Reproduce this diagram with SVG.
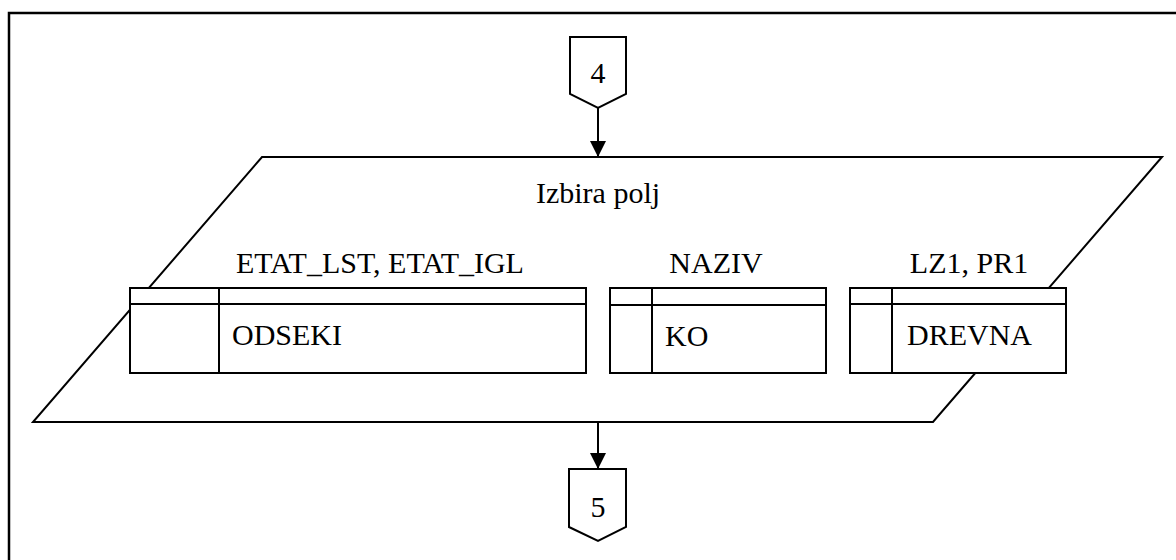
<svg xmlns="http://www.w3.org/2000/svg" width="1176" height="560" viewBox="0 0 1176 560" font-family="Liberation Serif" font-size="30">
  <style>
    .ln { fill: none; stroke: #000; stroke-width: 2; }
    .box { fill: #fff; stroke: #000; stroke-width: 2; }
    .mid { text-anchor: middle; }
  </style>
  <defs>
    <marker id="arrow" markerUnits="userSpaceOnUse" markerWidth="16" markerHeight="16" refX="16" refY="8" orient="auto">
      <path d="M0,0 L16,8 L0,16 Z" fill="#000"/>
    </marker>
  </defs>

  <rect x="0" y="0" width="1176" height="560" fill="#fff"/>
  <!-- page frame -->
  <path d="M9,570 V13 H1190" fill="none" stroke="#000" stroke-width="2.5"/>

  <!-- off-page connector 4 -->
  <g id="conn4">
    <path class="box" d="M570,37 H626 V94 L598,108 L570,94 Z"/>
    <text class="mid" x="598" y="83" font-family="Liberation Serif">4</text>
  </g>

  <!-- field selection block -->
  <g id="izbira">
    <path class="box" d="M262,157 H1162 L933,422 H33 Z"/>
    <text class="mid" x="598" y="203" font-family="Liberation Serif">Izbira polj</text>
  </g>

  <g id="odseki">
    <rect class="box" x="130" y="288" width="456" height="85"/>
    <path class="ln" d="M130,304 H586 M219,288 V373"/>
    <text class="mid" x="380" y="273" font-family="Liberation Serif">ETAT_LST, ETAT_IGL</text>
    <text x="232" y="345" font-family="Liberation Serif">ODSEKI</text>
  </g>

  <g id="ko">
    <rect class="box" x="610" y="288" width="216" height="85"/>
    <path class="ln" d="M610,305 H826 M652,288 V373"/>
    <text class="mid" x="716" y="273" font-family="Liberation Serif">NAZIV</text>
    <text x="665" y="346" font-family="Liberation Serif">KO</text>
  </g>

  <g id="drevna">
    <rect class="box" x="850" y="288" width="216" height="85"/>
    <path class="ln" d="M850,304 H1066 M892,288 V373"/>
    <text class="mid" x="969" y="273" font-family="Liberation Serif">LZ1, PR1</text>
    <text x="907" y="345" font-family="Liberation Serif">DREVNA</text>
  </g>

  <!-- off-page connector 5 -->
  <g id="conn5">
    <path class="box" d="M569,469 H626 V527 L598,541 L569,527 Z"/>
    <text class="mid" x="598" y="517" font-family="Liberation Serif">5</text>
  </g>

  <g id="connectors">
    <line class="ln" x1="598" y1="108" x2="598" y2="157" marker-end="url(#arrow)"/>
    <line class="ln" x1="598" y1="422" x2="598" y2="469" marker-end="url(#arrow)"/>
  </g>
</svg>
